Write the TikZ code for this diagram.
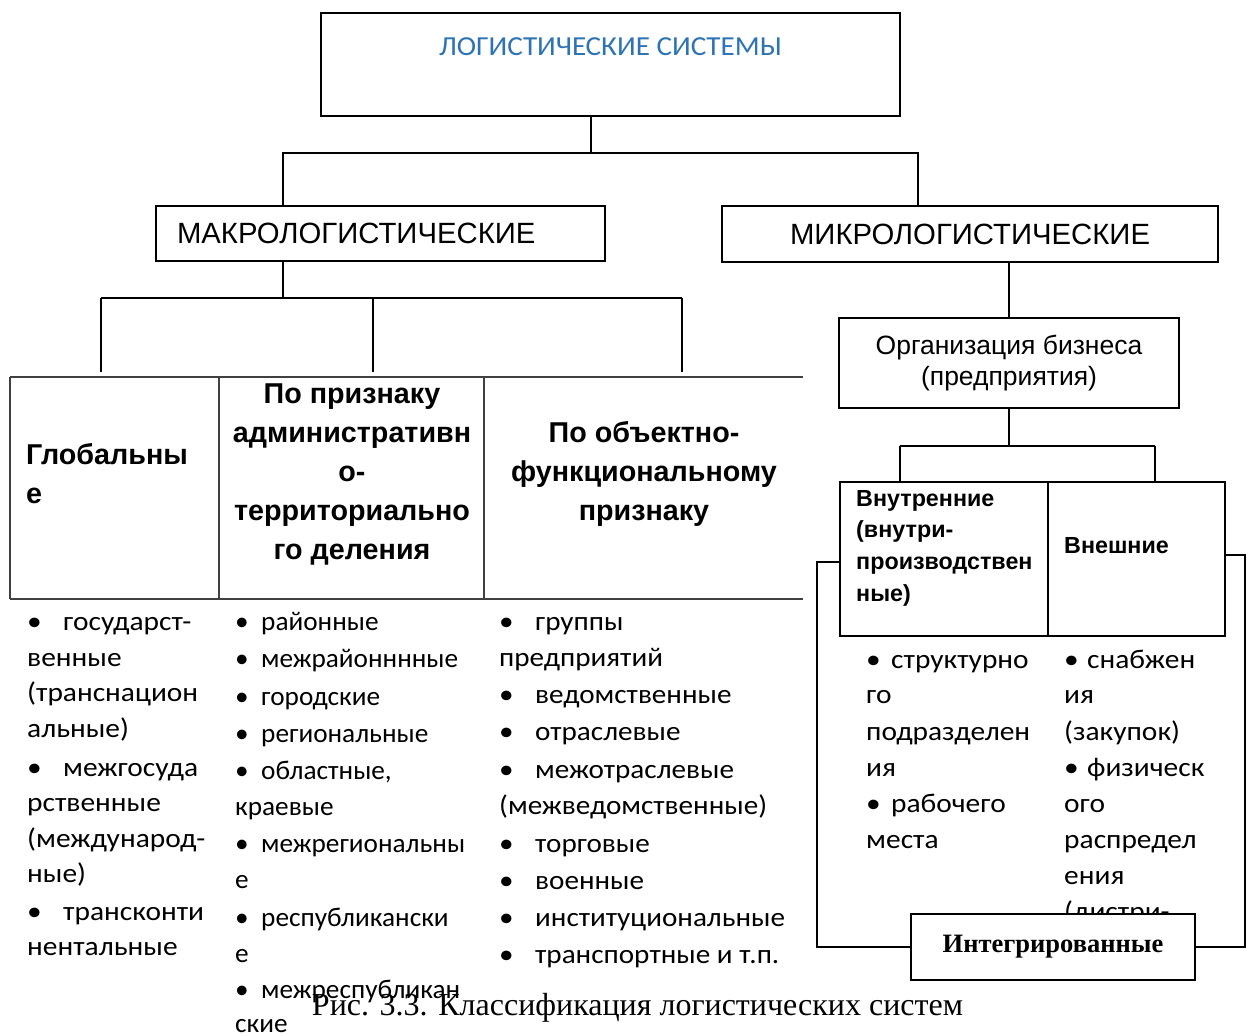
\documentclass[tikz,border=0pt]{standalone}
\usepackage{fontspec}
\setmainfont{Carlito}
\newfontfamily\arialf{Liberation Sans}
\newfontfamily\timesf{Liberation Serif}
\newfontfamily\calA[FakeStretch=1.09]{Carlito}
\newfontfamily\calB[FakeStretch=1.01]{Carlito}
\newfontfamily\calC[FakeStretch=1.08]{Carlito}
\newfontfamily\calD[FakeStretch=1.09]{Carlito}
\newfontfamily\calT[FakeStretch=1.06]{Carlito}
\definecolor{titleblue}{RGB}{46,116,181}
\newcommand\bul[1]{\makebox[#1][l]{•}}
\tikzset{
  box/.style={draw, line width=1.6pt, inner sep=0pt},
  conn/.style={line width=1.5pt},
  tline/.style={line width=1.3pt, draw=black!75},
  body/.style={anchor=base west, inner sep=0pt, font=\fontsize{27}{32}\selectfont},
  hdr/.style={inner sep=0pt, font=\arialf\bfseries\fontsize{28.7}{39}\selectfont},
  smallhdr/.style={inner sep=0pt, font=\arialf\bfseries\fontsize{23.3}{31.7}\selectfont},
}
\begin{document}
\begin{tikzpicture}[x=1pt,y=-1pt]
\useasboundingbox[fill=white] (0,0) rectangle (1248,1036);

% top
\node[box, line width=2pt, minimum width=579pt, minimum height=103pt] (top) at (610.5,64.5) {};
\node[inner sep=0pt, font=\calT\fontsize{27.5}{30}\selectfont, text=titleblue] (toptext) at (610.5,47) {ЛОГИСТИЧЕСКИЕ СИСТЕМЫ};

\node[box, minimum width=449pt, minimum height=55pt, text width=407pt, inner xsep=21pt, align=left,
      font=\arialf\fontsize{29.3}{34}\selectfont] (macro) at (380.5,233.5) {МАКРОЛОГИСТИЧЕСКИЕ};
\node[box, minimum width=496pt, minimum height=56pt, font=\arialf\fontsize{29.3}{34}\selectfont] (micro) at (970,234) {МИКРОЛОГИСТИЧЕСКИЕ};

\coordinate (j1) at (591,153);
\coordinate (jL) at (283,153);
\coordinate (jR) at (918,153);
\draw[conn] (j1 |- top.south) -- (j1);
\draw[conn] (jL |- macro.north) -- (jL) -- (jR) -- (jR |- micro.north);

% macro branches
\coordinate (j2) at (283,298);
\coordinate (b1) at (101,298);
\coordinate (b2) at (373,298);
\coordinate (b3) at (682,298);
\draw[conn] (j2 |- macro.south) -- (j2);
\draw[conn] (b1) -- (b3);
\draw[conn] (b1) -- ++(0,74);
\draw[conn] (b2) -- ++(0,74);
\draw[conn] (b3) -- ++(0,74);

% table
\draw[tline] (10,377) -- (803,377);
\draw[tline] (10,599) -- (803,599);
\draw[tline] (10,377) -- (10,599);
\draw[tline] (219,377) -- (219,599);
\draw[tline] (484,377) -- (484,599);

\node[hdr, align=left, anchor=west] (h1) at (26,474) {Глобальны\\е};
\node[hdr, align=center] (h2) at (352,474) {По признаку\\административн\\о-\\территориально\\го деления};
\node[hdr, align=center] (h3) at (644,474) {По объектно-\\функциональному\\признаку};

% lists
\foreach \y/\t [count=\i] in {630/{\bul{36pt}государст-}, 666/венные, 701/(транснацион, 737/альные),
  776/{\bul{36pt}межгосуда}, 811/рственные, 847/(международ-, 882/ные),
  920/{\bul{36pt}трансконти}, 955/нентальные}
  \node[body, font=\calA\fontsize{27}{32}\selectfont] (la\i) at (27,\y) {\t};

\foreach \y/\t [count=\i] in {630/{\bul{26pt}районные}, 667/{\bul{26pt}межрайонннные}, 705/{\bul{26pt}городские},
  742/{\bul{26pt}региональные}, 779/{\bul{26pt}областные,}, 815/краевые, 852/{\bul{26pt}межрегиональны},
  888/е, 926/{\bul{26pt}республикански}, 962/е, 998/{\bul{26pt}межреспубликан}, 1032/ские}
  \node[body, font=\calB\fontsize{27}{32}\selectfont] (lb\i) at (235,\y) {\t};

\foreach \y/\t [count=\i] in {630/{\bul{36pt}группы}, 666/предприятий, 703/{\bul{36pt}ведомственные},
  740/{\bul{36pt}отраслевые}, 778/{\bul{36pt}межотраслевые}, 814/(межведомственные),
  852/{\bul{36pt}торговые}, 889/{\bul{36pt}военные}, 926/{\bul{36pt}институциональные},
  963/{\bul{36pt}транспортные и т.п.}}
  \node[body, font=\calC\fontsize{27}{32}\selectfont] (lc\i) at (499,\y) {\t};

% micro branch
\node[box, minimum width=340pt, minimum height=90pt, align=center,
      font=\arialf\fontsize{26.5}{31}\selectfont] (org) at (1009,363) {Организация бизнеса\\(предприятия)};
\draw[conn] (micro.south -| org.north) -- (org.north);
\coordinate (j3) at (1009,446);
\coordinate (c1) at (900,446);
\coordinate (c2) at (1155,446);
\draw[conn] (org.south) -- (j3);
\draw[conn] (c1) -- (c2);

\node[box, line width=1.3pt, minimum width=208pt, minimum height=154pt] (inner) at (944,559) {};
\node[box, line width=1.3pt, minimum width=177pt, minimum height=154pt] (outer) at (1136.5,559) {};
\draw[conn] (c1) -- (c1 |- inner.north);
\draw[conn] (c2) -- (c2 |- outer.north);

\node[smallhdr, align=left, anchor=west] (intext) at (856,548) {Внутренние\\(внутри-\\производствен\\ные)};
\node[smallhdr, anchor=west] (outtext) at (1064,546) {Внешние};

\foreach \y/\t [count=\i] in {668/{\bul{25pt}структурно}, 703/го, 740/подразделен, 776/ия,
  812/{\bul{25pt}рабочего}, 848/места}
  \node[body, font=\calD\fontsize{27}{32}\selectfont] (ld\i) at (866,\y) {\t};
\foreach \y/\t [count=\i] in {668/{\bul{23pt}снабжен}, 703/ия, 740/(закупок), 776/{\bul{23pt}физическ},
  812/ого, 848/распредел, 884/ения, 920/(дистри-}
  \node[body, font=\calD\fontsize{27}{32}\selectfont] (le\i) at (1064,\y) {\t};

% integrated
\node[box, fill=white, minimum width=284pt, minimum height=66pt,
      font=\timesf\bfseries\fontsize{26.5}{30}\selectfont] (integ) at (1053,947) {Интегрированные};
\coordinate (fL) at (840,562);
\coordinate (fR) at (1225,555);
\draw[conn] (fL) -- (817,562) |- (integ.west);
\draw[conn] (fR) -- (1245,555) |- (integ.east);

% caption
\node[inner sep=0pt, anchor=base, font=\timesf\fontsize{32}{36}\selectfont] (cap) at (637.5,1015) {Рис. 3.3. Классификация логистических систем};
\end{tikzpicture}
\end{document}
